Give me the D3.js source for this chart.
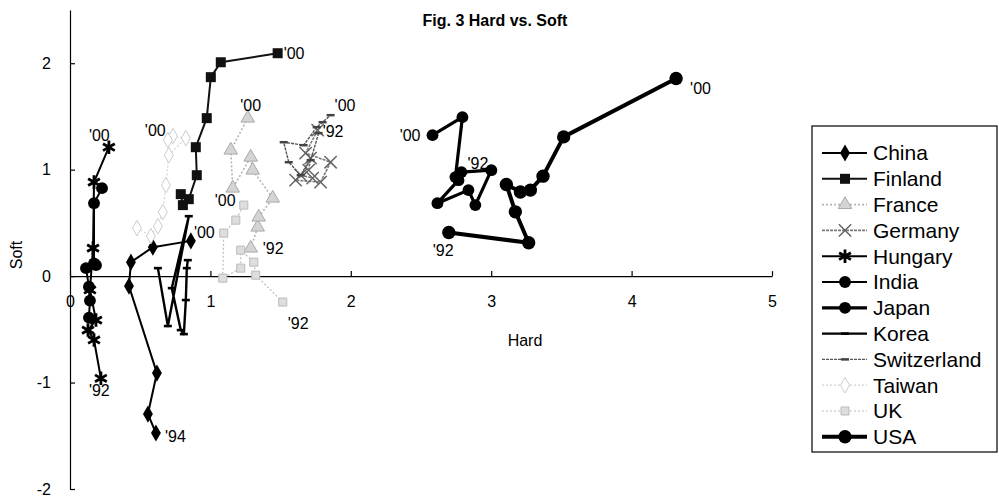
<!DOCTYPE html>
<html><head><meta charset="utf-8">
<script src="https://cdn.jsdelivr.net/npm/d3@7"></script>
<style>body{margin:0;background:#fff;}svg{display:block;font-family:"Liberation Sans",Arial,sans-serif;}</style>
</head><body><svg id="c" width="999" height="498"></svg>
<script>
// ---- data (Hard, Soft) per year ----
const years = ["'92","'93","'94","'95","'96","'97","'98","'99","'00"];
const countries = ["China","Finland","France","Germany","Hungary","India","Japan","Korea","Switzerland","Taiwan","UK","USA"];
const china = [[0.612,-1.474],[0.555,-1.296],[0.619,-0.911],[0.420,-0.094],[0.434,0.131],[0.590,0.272],[0.861,0.331]];
const chinaYears = ["'94","'95","'96","'97","'98","'99","'00"];
const finland = [[0.804,0.667],[0.789,0.770],[0.846,0.723],[0.903,0.948],[0.896,1.211],[0.974,1.484],[1.003,1.869],[1.074,2.009],[1.479,2.094]];
const france = [[1.287,0.263],[1.337,0.460],[1.344,0.554],[1.444,0.732],[1.301,0.995],[1.287,1.117],[1.159,0.826],[1.145,1.183],[1.266,1.484]];
const germany = [[1.764,1.371],[1.678,1.155],[1.856,1.070],[1.785,0.883],[1.607,0.901],[1.700,0.995],[1.714,1.108],[1.643,0.948],[1.728,0.920]];
const hungary = [[0.220,-0.960],[0.171,-0.600],[0.128,-0.507],[0.185,-0.413],[0.142,-0.130],[0.164,0.263],[0.171,0.883],[0.277,1.211]];
const hungaryYears = ["'92","'93","'94","'95","'96","'97","'98","'00"];
const india = [[0.135,-0.390],[0.142,-0.230],[0.135,-0.100],[0.114,0.075],[0.185,0.103],[0.171,0.120],[0.171,0.685],[0.228,0.826]];
const japan = [[2.788,0.977],[3.001,0.995],[2.887,0.667],[2.838,0.808],[2.617,0.685],[2.767,0.901],[2.745,0.930],[2.795,1.493],[2.582,1.324]];
const korea = [[0.626,0.075],[0.697,-0.469],[0.846,0.563],[0.725,-0.113],[0.789,-0.507],[0.811,-0.545],[0.825,-0.225],[0.832,0.075],[0.839,0.150]];
const switzerland = [[1.771,1.343],[1.714,1.089],[1.643,0.948],[1.558,1.070],[1.522,1.258],[1.664,1.230],[1.757,1.399],[1.799,1.446],[1.856,1.512]];
const taiwan = [[0.477,0.451],[0.576,0.376],[0.626,0.469],[0.661,0.601],[0.683,0.855],[0.704,1.136],[0.825,1.296],[0.733,1.315],[0.697,1.277]];
const uk = [[1.515,-0.244],[1.323,0.009],[1.309,0.131],[1.216,0.244],[1.216,0.075],[1.088,-0.019],[1.095,0.404],[1.181,0.526],[1.238,0.667]];
const usa = [[2.698,0.410],[3.267,0.313],[3.172,0.604],[3.108,0.861],[3.208,0.790],[3.279,0.808],[3.369,0.939],[3.516,1.308],[4.317,1.856]];
const xTicks = [0,1,2,3,4,5];
const yTicks = [-2,-1,0,1,2];
// point labels: country, index of point, text
const labelCountry = ["Finland","France","Switzerland","Switzerland","USA","Japan","Japan","USA","Hungary","Taiwan","UK","China","France","UK","Hungary","China"];
const labelIndex   = [8,8,8,0,8,8,0,0,7,8,8,6,0,0,0,0];
const labelText    = ["'00","'00","'00","'92","'00","'00","'92","'92","'00","'00","'00","'00","'92","'92","'92","'94"];

// ---- styles ----
const seriesData = {China:china,Finland:finland,France:france,Germany:germany,Hungary:hungary,India:india,Japan:japan,Korea:korea,Switzerland:switzerland,Taiwan:taiwan,UK:uk,USA:usa};
const dashPath = "M-4,0H4";
const style = {
  China:{stroke:"#000",w:2,dash:null,sym:d3.symbolDiamond,size:85,fill:"#000",mstroke:"none"},
  Finland:{stroke:"#111",w:2,dash:null,sym:d3.symbolSquare,size:100,fill:"#111",mstroke:"none"},
  France:{stroke:"#b4b4b4",w:1.6,dash:"2,2",sym:d3.symbolTriangle,size:80,fill:"#d4d4d4",mstroke:"#aaa"},
  Germany:{stroke:"#7a7a7a",w:1.6,dash:"3,1",sym:d3.symbolX,size:100,fill:"none",mstroke:"#666",mw:1.5},
  Hungary:{stroke:"#000",w:2,dash:null,sym:d3.symbolAsterisk,size:130,fill:"none",mstroke:"#000",mw:2.8},
  India:{stroke:"#000",w:2,dash:null,sym:d3.symbolCircle,size:110,fill:"#000",mstroke:"none"},
  Japan:{stroke:"#000",w:3.2,dash:null,sym:d3.symbolCircle,size:110,fill:"#000",mstroke:"none"},
  Korea:{stroke:"#000",w:2.4,dash:null,sym:null,size:0,fill:"none",mstroke:"#000",mw:2.6},
  Switzerland:{stroke:"#555",w:1.4,dash:"3,1",sym:null,size:0,fill:"none",mstroke:"#444",mw:2.5},
  Taiwan:{stroke:"#d2d2d2",w:1.2,dash:"2,2",sym:d3.symbolDiamond,size:70,fill:"#fff",mstroke:"#ccc"},
  UK:{stroke:"#bdbdbd",w:1.2,dash:"2,2",sym:d3.symbolSquare,size:65,fill:"#ddd",mstroke:"#bbb"},
  USA:{stroke:"#000",w:4,dash:null,sym:d3.symbolCircle,size:140,fill:"#000",mstroke:"none"}
};
const labelOffset = [[6,0],[3,-13],[4,-10],[4,-2],[14,10],[-12,0],[6,-9],[-16,18],[-20,-12],[-23,-10],[-29,-5],[3,-8],[12,0],[5,21],[-12,12],[9,3]];
const labelAnchor = ["start","middle","start","start","start","end","start","start","start","start","start","start","start","start","start","start"];

const svg = d3.select("#c");
const x = d3.scaleLinear().domain([0,5]).range([70,772]);
const y = d3.scaleLinear().domain([-2,2.5]).range([489,10]);

// title and axis titles
svg.append("text").attr("x",495).attr("y",26).attr("text-anchor","middle")
  .attr("font-size",16).attr("font-weight","bold").text("Fig. 3 Hard vs. Soft");
svg.append("text").attr("transform","translate(22,255) rotate(-90)").attr("text-anchor","middle")
  .attr("font-size",16).text("Soft");
svg.append("text").attr("x",525).attr("y",346).attr("text-anchor","middle")
  .attr("font-size",16).text("Hard");

// axes
const gx = svg.append("g").attr("transform",`translate(0,${y(0)})`)
  .call(d3.axisBottom(x).tickValues(xTicks).tickFormat(d3.format("d")).tickSizeInner(-5).tickSizeOuter(0).tickPadding(20));
const gy = svg.append("g").attr("transform",`translate(${x(0)},0)`)
  .call(d3.axisLeft(y).tickValues(yTicks).tickFormat(d3.format("d")).tickSizeInner(-5).tickSizeOuter(0).tickPadding(19));
[gx,gy].forEach(g=>{
  g.selectAll("path,line").attr("stroke","#000").attr("stroke-width",1.2);
  g.selectAll("text").attr("font-size",16).attr("font-family","Liberation Sans, Arial, sans-serif").attr("fill","#000");
});
gy.selectAll("text").text(d=>d<0?"-"+Math.abs(d):d);

const line = d3.line().x(d=>x(d[0])).y(d=>y(d[1]));

function drawMarker(g, c, px, py){
  const s = style[c];
  if(c==="Korea"||c==="Switzerland"){
    g.append("path").attr("d",dashPath).attr("transform",`translate(${px},${py})`)
      .attr("stroke",s.mstroke).attr("stroke-width",s.mw).attr("fill","none");
    return;
  }
  g.append("path").attr("d",d3.symbol(s.sym,s.size)()).attr("transform",`translate(${px},${py})`)
    .attr("fill",s.fill).attr("stroke",s.mstroke).attr("stroke-width",s.mw||1);
}

const plot = svg.append("g");
countries.forEach(c=>{
  const s = style[c];
  const data = seriesData[c];
  plot.append("path").datum(data).attr("d",line).attr("fill","none")
    .attr("stroke",s.stroke).attr("stroke-width",s.w).attr("stroke-dasharray",s.dash)
    .attr("stroke-linejoin","round");
  const mg = plot.append("g");
  data.forEach(d=>drawMarker(mg,c,x(d[0]),y(d[1])));
});

// point labels
labelCountry.forEach((c,i)=>{
  const d = seriesData[c][labelIndex[i]];
  svg.append("text").attr("x",x(d[0])+labelOffset[i][0]).attr("y",y(d[1])+labelOffset[i][1])
    .attr("dy","0.35em").attr("text-anchor",labelAnchor[i]).attr("font-size",16).text(labelText[i]);
});

// legend
const lg = svg.append("g");
const legTop = 126, legFirst = 153, legStep = 25.8;
lg.append("rect").attr("x",812).attr("y",legTop).attr("width",185).attr("height",326)
  .attr("fill","#fff").attr("stroke","#000").attr("stroke-width",1.2);
countries.forEach((c,i)=>{
  const s = style[c];
  const cy = legFirst + i*legStep;
  lg.append("line").attr("x1",822).attr("x2",867).attr("y1",cy).attr("y2",cy)
    .attr("stroke",s.stroke).attr("stroke-width",s.w).attr("stroke-dasharray",s.dash);
  drawMarker(lg,c,845,cy);
  lg.append("text").attr("x",873).attr("y",cy).attr("dy","0.35em").attr("font-size",21).text(c);
});
</script></body></html>
